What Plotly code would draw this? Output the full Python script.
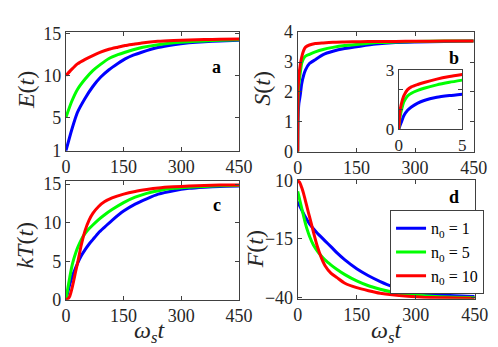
import plotly.graph_objects as go

W, H = 498, 347

labels = ['n<sub>0</sub> = 1', 'n<sub>0</sub> = 5', 'n<sub>0</sub> = 10']
colors = ['#0000ff', '#00ff00', '#ff0000']

# (a) energy
t_energy = [0, 15, 30, 50, 70, 90, 112, 135, 154, 175, 197, 239, 280, 320, 360, 400, 450]
energy_n1 = [1, 3.5, 5.6, 7.3, 8.7, 9.8, 10.7, 11.45, 12.0, 12.45, 12.8, 13.36, 13.7, 13.92, 14.06, 14.15, 14.22]
energy_n5 = [5, 6.9, 8.35, 9.6, 10.6, 11.35, 12.05, 12.5, 12.8, 13.1, 13.36, 13.7, 13.92, 14.06, 14.15, 14.22, 14.28]
energy_n10 = [10, 10.75, 11.4, 11.95, 12.4, 12.8, 13.15, 13.4, 13.6, 13.75, 13.9, 14.1, 14.2, 14.27, 14.31, 14.34, 14.37]

# (b) entropy, inset uses the first part (t <= 5)
t_entropy = [0, 0.1, 0.2, 0.4, 0.7, 1, 1.5, 2, 3, 4, 5, 7, 10, 15, 20, 30, 45, 65, 90, 120, 160, 200, 250, 300, 375, 450]
entropy_n1 = [0, 0.18, 0.34, 0.68, 0.96, 1.12, 1.32, 1.45, 1.61, 1.7, 1.77, 1.95, 2.26, 2.55, 2.74, 2.95, 3.08, 3.25,
              3.36, 3.45, 3.53, 3.6, 3.65, 3.67, 3.69, 3.7]
entropy_n5 = [0, 0.6, 0.92, 1.38, 1.68, 1.82, 1.96, 2.07, 2.24, 2.37, 2.48, 2.68, 2.95, 3.12, 3.2, 3.26, 3.34, 3.42,
              3.49, 3.55, 3.6, 3.65, 3.67, 3.69, 3.7, 3.7]
entropy_n10 = [0, 0.87, 1.25, 1.68, 2.0, 2.14, 2.26, 2.36, 2.53, 2.66, 2.76, 2.95, 3.15, 3.38, 3.5, 3.57, 3.62, 3.64,
               3.66, 3.67, 3.68, 3.685, 3.69, 3.695, 3.7, 3.7]

# (c) temperature and (d) free energy
t_thermo = [0, 5, 10, 15, 20, 25, 30, 40, 50, 60, 70, 85, 100, 120, 150, 180, 210, 240, 280, 320, 360, 400, 450]
temp_n1 = [0, 1.0, 2.0, 2.8, 3.5, 4.1, 4.7, 5.7, 6.5, 7.2, 7.8, 8.7, 9.4, 10.3, 11.5, 12.4, 13.1, 13.7, 14.15, 14.45,
           14.6, 14.7, 14.75]
temp_n5 = [0, 1.5, 2.9, 4.2, 5.2, 6.0, 6.7, 7.8, 8.6, 9.2, 9.7, 10.4, 11.0, 11.7, 12.6, 13.3, 13.8, 14.15, 14.45, 14.6,
           14.7, 14.78, 14.82]
temp_n10 = [0, 0.1, 0.45, 1.3, 2.4, 3.6, 4.7, 7.1, 9.0, 10.3, 11.2, 12.1, 12.7, 13.2, 13.7, 14.05, 14.3, 14.5, 14.65,
            14.75, 14.82, 14.87, 14.9]
free_n1 = [1.0, -0.8, -2.5, -4.1, -5.7, -7.2, -8.5, -10.6, -12.5, -14.2, -15.9, -18.4, -21.0, -24.0, -27.8, -30.8,
           -33.3, -35.4, -37.2, -38.3, -39.0, -39.4, -39.7]
free_n5 = [5.5, 1.8, -1.6, -5.2, -8.6, -11.4, -13.8, -17.6, -20.2, -22.3, -24.1, -26.2, -28.1, -30.3, -33.0, -35.1,
           -36.6, -37.8, -38.8, -39.4, -39.8, -40.0, -40.1]
free_n10 = [10, 9.3, 7.2, 4.5, 1.2, -2.2, -5.4, -12.0, -18.2, -23.0, -26.6, -29.8, -31.6, -34.0, -35.9, -37.2, -38.3,
            -39.0, -39.6, -40.0, -40.2, -40.3, -40.4]

x_ticks = [0, 150, 300, 450]
font = 'Liberation Serif'
ink = '#262626'


def dom_x(a, b):
    return [a / W, b / W]


def dom_y(top, bottom):
    return [1 - bottom / H, 1 - top / H]


def axis_style(domain, anchor, rng, ticks, minor=None, size=18):
    ax = dict(domain=domain, anchor=anchor, range=rng, tickvals=ticks, showgrid=False, zeroline=False,
              showline=True, linecolor='#404040', linewidth=1, mirror='ticks', ticks='inside', ticklen=4,
              tickcolor='#404040', tickfont=dict(family=font, size=size, color=ink))
    if minor is not None:
        ax['minor'] = dict(tickvals=minor, ticks='inside', ticklen=4, tickcolor='#404040', showgrid=False)
    return ax


fig = go.Figure()

panels = [
    ('x', 'y', t_energy, [energy_n1, energy_n5, energy_n10], False),
    ('x2', 'y2', t_entropy, [entropy_n1, entropy_n5, entropy_n10], False),
    ('x3', 'y3', t_thermo, [temp_n1, temp_n5, temp_n10], False),
    ('x4', 'y4', t_thermo, [free_n1, free_n5, free_n10], True),
]
for xa, ya, t, series, legend in panels:
    for vals, color, name in zip(series, colors, labels):
        fig.add_trace(go.Scatter(x=t, y=vals, xaxis=xa, yaxis=ya, mode='lines', name=name, showlegend=legend,
                                 line=dict(color=color, width=3, shape='spline', smoothing=0.6)))

# inset of panel b
n_short = t_entropy.index(5) + 1
for vals, color, name in zip([entropy_n1, entropy_n5, entropy_n10], colors, labels):
    fig.add_trace(go.Scatter(x=t_entropy[:n_short], y=vals[:n_short], xaxis='x5', yaxis='y5', mode='lines',
                             showlegend=False, line=dict(color=color, width=3, shape='spline', smoothing=0.6)))

fig.update_layout(
    width=W, height=H, autosize=False,
    margin=dict(l=0, r=0, t=0, b=0),
    paper_bgcolor='white', plot_bgcolor='white',
    xaxis=axis_style(dom_x(55, 235), 'y', [0, 450], x_ticks),
    yaxis=axis_style(dom_y(15, 141), 'x', [1, 15.2], [1, 5, 10, 15]),
    xaxis2=axis_style(dom_x(296, 479), 'y2', [0, 450], x_ticks),
    yaxis2=axis_style(dom_y(15, 142), 'x2', [0, 4], [0, 1, 2, 3, 4]),
    xaxis3=axis_style(dom_x(55, 235), 'y3', [0, 450], x_ticks),
    yaxis3=axis_style(dom_y(173, 299), 'x3', [0, 15.4], [0, 5, 10, 15]),
    xaxis4=axis_style(dom_x(296, 480), 'y4', [0, 450], x_ticks),
    yaxis4=axis_style(dom_y(172, 298), 'x4', [-40.7, 10.3], [-40, -15, 10]),
    xaxis5=axis_style(dom_x(401, 467), 'y5', [0, 5], [0, 5], size=17),
    yaxis5=axis_style(dom_y(55, 118), 'x5', [0, 3], [0, 3], minor=[1, 2], size=17),
    legend=dict(x=392 / W, y=1 - 204 / H, xanchor='left', yanchor='top', bgcolor='white',
                bordercolor='#404040', borderwidth=1, itemwidth=30,
                font=dict(family=font, size=16, color='black')),
)

# axis titles and panel letters
title_font = dict(family=font, size=24, color=ink)
notes = [
    (13, 77, '<i>E</i>(<i>t</i>)', -90),
    (259, 75, '<i>S</i>(<i>t</i>)', -90),
    (13, 241, '<i>kT</i>(<i>t</i>)', -90),
    (251, 245, '<i>F</i>(<i>t</i>)', -90),
    (142, 333, '<i>ω<sub>s</sub>t</i>', 0),
    (388, 333, '<i>ω<sub>s</sub>t</i>', 0),
]
for px, py, text, angle in notes:
    fig.add_annotation(x=px / W, y=1 - py / H, xref='paper', yref='paper', text=text, textangle=angle,
                       showarrow=False, font=title_font, xanchor='center', yanchor='middle')

for px, py, letter in [(212, 52, 'a'), (459, 42, 'b'), (212, 198, 'c'), (459, 190, 'd')]:
    fig.add_annotation(x=px / W, y=1 - py / H, xref='paper', yref='paper', text=letter,
                       showarrow=False, font=dict(family=font, size=18, color='black', weight='bold'),
                       xanchor='center', yanchor='middle')

fig.write_html("out.html")
